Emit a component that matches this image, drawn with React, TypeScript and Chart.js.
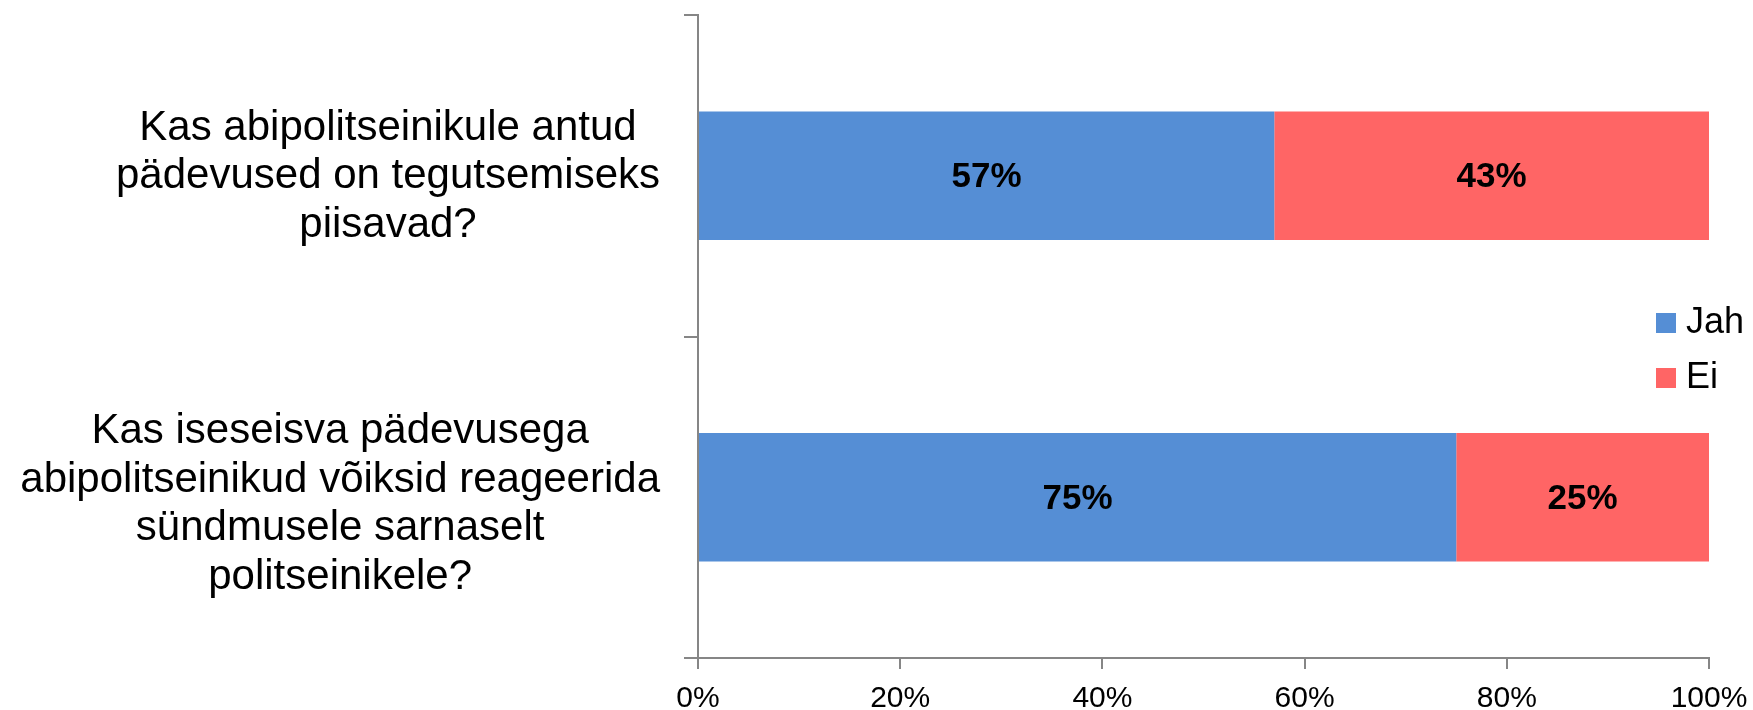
import React, { useEffect, useRef } from "react";
import { Chart, registerables } from "chart.js";

Chart.register(...registerables);

const categories = [
  "Kas abipolitseinikule antud pädevused on tegutsemiseks piisavad?",
  "Kas iseseisva pädevusega abipolitseinikud võiksid reageerida sündmusele sarnaselt politseinikele?",
];
const categoryLines = [
  ["Kas abipolitseinikule antud", "pädevused on tegutsemiseks", "piisavad?"],
  ["Kas iseseisva pädevusega", "abipolitseinikud võiksid reageerida", "sündmusele sarnaselt", "politseinikele?"],
];
const seriesNames = ["Jah", "Ei"];
const seriesColors = ["#558ED5", "#FF6565"];
const jahValues = [57, 75];
const eiValues = [43, 25];
const xMin = 0;
const xMax = 100;
const xStep = 20;

const FONT = "'Liberation Sans', Arial, Helvetica, sans-serif";
const AXIS_COLOR = "#868686";

function makeSwatch(color: string, size: number) {
  const c = document.createElement("canvas");
  c.width = size;
  c.height = size;
  const g = c.getContext("2d");
  if (g) {
    g.fillStyle = color;
    g.fillRect(0, 0, size, size);
  }
  return c;
}

export default function App() {
  const canvasRef = useRef<HTMLCanvasElement | null>(null);

  useEffect(() => {
    const canvas = canvasRef.current;
    if (!canvas) return;

    const swatches = seriesColors.map((c) => makeSwatch(c, 20));

    const labelsPlugin = {
      id: "catLabels",
      afterLayout(chart: any) {
        const legend = chart.legend;
        if (legend) {
          legend.left = 1645;
          legend.right = 1753;
          legend.width = 108;
          legend.top = 286;
          legend.bottom = 700;
          legend.height = 414;
        }
      },
      afterDraw(chart: any) {
        const ctx = chart.ctx;
        const yScale = chart.scales.y;
        ctx.save();
        ctx.font = `42px ${FONT}`;
        ctx.fillStyle = "#000";
        ctx.textAlign = "center";
        ctx.textBaseline = "middle";
        const lh = 48.5;
        categoryLines.forEach((lines, i) => {
          const y = yScale.getPixelForValue(i) + 1 + (lines.length - 3) * 6;
          const widest = Math.max(...lines.map((l) => ctx.measureText(l).width));
          const cx = 660 - widest / 2;
          const startY = y - ((lines.length - 1) * lh) / 2;
          lines.forEach((line, j) => {
            ctx.fillText(line, cx, startY + j * lh);
          });
        });
        ctx.restore();
      },
      afterDatasetsDraw(chart: any) {
        const ctx = chart.ctx;
        ctx.save();
        ctx.font = `bold 35px ${FONT}`;
        ctx.fillStyle = "#000";
        ctx.textAlign = "center";
        ctx.textBaseline = "middle";
        chart.data.datasets.forEach((ds: any, di: number) => {
          const meta = chart.getDatasetMeta(di);
          meta.data.forEach((el: any, i: number) => {
            const p = el.getCenterPoint();
            ctx.fillText(`${ds.data[i]}%`, p.x, p.y + 2);
          });
        });
        ctx.restore();
      },
    };

    const chart = new Chart(canvas, {
      type: "bar",
      data: {
        labels: categories,
        datasets: [
          {
            label: seriesNames[0],
            data: jahValues,
            backgroundColor: seriesColors[0],
            borderWidth: 0,
            barPercentage: 0.4,
            categoryPercentage: 1,
          },
          {
            label: seriesNames[1],
            data: eiValues,
            backgroundColor: seriesColors[1],
            borderWidth: 0,
            barPercentage: 0.4,
            categoryPercentage: 1,
          },
        ],
      },
      options: {
        indexAxis: "y",
        responsive: false,
        animation: false,
        layout: { padding: { top: 15, left: 0, right: 0, bottom: 0 } },
        plugins: {
          legend: {
            position: "chartArea",
            align: "start",
            labels: {
              usePointStyle: true,
              pointStyleWidth: 4,
              padding: 19,
              color: "#000",
              font: { family: FONT, size: 36 },
              generateLabels: (ch: any) =>
                Chart.defaults.plugins.legend.labels
                  .generateLabels(ch)
                  .map((item: any, i: number) => ({ ...item, pointStyle: swatches[i], lineWidth: 0 })),
            },
          },
          tooltip: { enabled: false },
        },
        scales: {
          x: {
            stacked: true,
            min: xMin,
            max: xMax,
            border: { display: true, color: AXIS_COLOR, width: 2 },
            grid: {
              display: true,
              drawOnChartArea: false,
              drawTicks: true,
              tickLength: 11,
              color: AXIS_COLOR,
              lineWidth: 2,
            },
            ticks: {
              stepSize: xStep,
              padding: 12,
              color: "#000",
              font: { family: FONT, size: 30 },
              maxRotation: 0,
              callback: (v: any) => `${v}%`,
            },
            afterFit: (scale: any) => {
              scale.height = 52;
              scale.paddingRight = 44;
              scale.paddingLeft = 0;
            },
          },
          y: {
            stacked: true,
            border: { display: true, color: AXIS_COLOR, width: 2 },
            grid: {
              display: true,
              drawOnChartArea: false,
              drawTicks: true,
              tickLength: 14,
              color: AXIS_COLOR,
              lineWidth: 2,
            },
            ticks: { display: false },
            afterFit: (scale: any) => {
              scale.width = 698;
            },
          },
        },
      },
      plugins: [labelsPlugin],
    } as any);

    return () => {
      chart.destroy();
    };
  }, []);

  return (
    <div style={{ position: "fixed", left: 0, top: 0, width: 1753, height: 710, background: "#fff" }}>
      <canvas ref={canvasRef} width={1753} height={710} style={{ display: "block" }} />
    </div>
  );
}
